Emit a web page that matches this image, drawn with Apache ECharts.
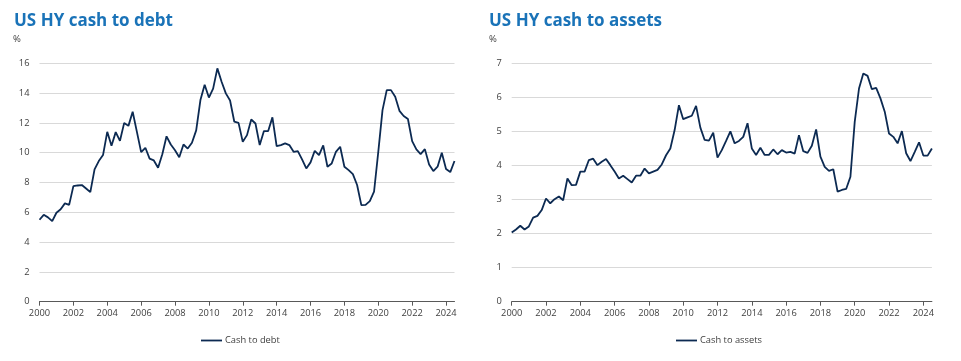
<!DOCTYPE html>
<html><head><meta charset="utf-8">
<script src="https://cdn.jsdelivr.net/npm/echarts@6/dist/echarts.min.js"></script>
<style>html,body{margin:0;padding:0;background:#fff}#c{width:961px;height:361px}</style>
</head><body><div id="c"></div>
<script>
// Quarterly categories 2000 Q1 .. 2024 Q3
const quarters = [];
for (let y = 2000; y <= 2024; y++) for (let q = 1; q <= 4; q++) { if (y === 2024 && q > 3) break; quarters.push(y + ' Q' + q); }

const cashToDebt = [5.5,5.83,5.66,5.41,5.97,6.2,6.6,6.5,7.76,7.8,7.83,7.6,7.35,8.88,9.44,9.84,11.4,10.47,11.38,10.8,12.0,11.8,12.75,11.4,10.04,10.33,9.6,9.48,8.99,9.9,11.1,10.55,10.17,9.7,10.55,10.28,10.67,11.5,13.53,14.56,13.7,14.3,15.66,14.76,13.98,13.5,12.08,12.0,10.73,
11.18,12.23,11.96,10.51,11.45,11.45,12.37,10.44,10.51,10.62,10.51,10.06,10.1,9.55,8.94,9.35,10.13,9.84,10.49,9.06,9.28,10.06,10.4,9.06,8.83,8.56,7.83,6.48,6.5,6.75,7.38,10.06,12.86,14.2,14.2,13.75,12.81,12.46,12.26,10.78,10.22,9.91,10.24,9.21,8.77,9.06,10.0,8.9,8.7,9.44];

const cashToAssets = [2.03,2.12,2.23,2.12,2.21,2.47,2.52,2.69,3.03,2.89,3.01,3.09,2.98,3.62,3.42,3.43,3.82,3.82,4.16,4.2,4.01,4.11,4.19,4.01,3.82,3.62,3.7,3.6,3.5,3.7,3.7,3.91,3.77,3.82,3.87,4.03,4.3,4.5,5.04,5.77,5.36,5.41,5.46,5.75,5.11,4.75,4.73,4.96,4.23,
4.45,4.72,5.0,4.65,4.72,4.84,5.24,4.5,4.31,4.52,4.31,4.31,4.47,4.33,4.45,4.38,4.4,4.35,4.89,4.42,4.37,4.58,5.06,4.26,3.96,3.84,3.89,3.23,3.28,3.31,3.67,5.28,6.26,6.7,6.63,6.24,6.28,5.97,5.58,4.94,4.84,4.65,5.01,4.36,4.13,4.4,4.68,4.29,4.29,4.5];

const titles = ['US HY cash to debt', 'US HY cash to assets'];
const seriesNames = ['Cash to debt', 'Cash to assets'];
const yMax = [16, 7];
const yInterval = [2, 1];
const unitLabel = '%';

const FONT = 'Open Sans';
const TXT = '#404040';
const LINE = '#0c2a52';
const TITLE = '#1a73b8';

const chart = echarts.init(document.getElementById('c'), null, {renderer: 'canvas'});
const grids = [
  {left: 39.5, top: 63.3, width: 415, height: 238.4},
  {left: 511.7, top: 63.3, width: 420.2, height: 238.4}
];
const xAxes = [0,1].map(i => ({
  type: 'category', gridIndex: i, data: quarters, boundaryGap: false,
  axisLine: {show: true, lineStyle: {color: '#595959', width: 1}},
  axisTick: {show: true, interval: 7, length: 4, lineStyle: {color: '#595959'}},
  axisLabel: {interval: 7, margin: 7, fontFamily: FONT, fontSize: 9.3, color: TXT, formatter: v => v.slice(0,4)},
  splitLine: {show: false}
}));
const yAxes = [0,1].map(i => ({
  type: 'value', gridIndex: i, min: 0, max: yMax[i], interval: yInterval[i],
  axisLine: {show: false}, axisTick: {show: false},
  axisLabel: {margin: 10, fontFamily: FONT, fontSize: 9.3, color: TXT},
  splitLine: {lineStyle: {color: '#d9d9d9', width: 1}}
}));
const legendCommon = {icon: 'rect', itemWidth: 21, itemHeight: 1.8, itemGap: 5,
  textStyle: {fontFamily: FONT, fontSize: 9.3, color: TXT, padding: [0,0,0,-2]}};
chart.setOption({
  animation: false,
  title: [
    {text: titles[0], left: 9, top: 8, textStyle: {fontFamily: FONT, fontSize: 17, fontWeight: 'bold', color: TITLE}},
    {text: titles[1], left: 484, top: 8, textStyle: {fontFamily: FONT, fontSize: 17, fontWeight: 'bold', color: TITLE}}
  ],
  graphic: [
    {type: 'text', left: 13, top: 34, style: {text: unitLabel, font: '9.5px "Open Sans"', fill: TXT}},
    {type: 'text', left: 489, top: 34, style: {text: unitLabel, font: '9.5px "Open Sans"', fill: TXT}}
  ],
  legend: [
    Object.assign({data: [seriesNames[0]], left: 196, top: 331}, legendCommon),
    Object.assign({data: [seriesNames[1]], left: 671, top: 331}, legendCommon)
  ],
  grid: grids,
  xAxis: xAxes,
  yAxis: yAxes,
  series: [
    {name: seriesNames[0], type: 'line', xAxisIndex: 0, yAxisIndex: 0, data: cashToDebt, symbol: 'none', lineStyle: {color: LINE, width: 1.8}, itemStyle: {color: LINE}},
    {name: seriesNames[1], type: 'line', xAxisIndex: 1, yAxisIndex: 1, data: cashToAssets, symbol: 'none', lineStyle: {color: LINE, width: 1.8}, itemStyle: {color: LINE}}
  ]
});
</script></body></html>
